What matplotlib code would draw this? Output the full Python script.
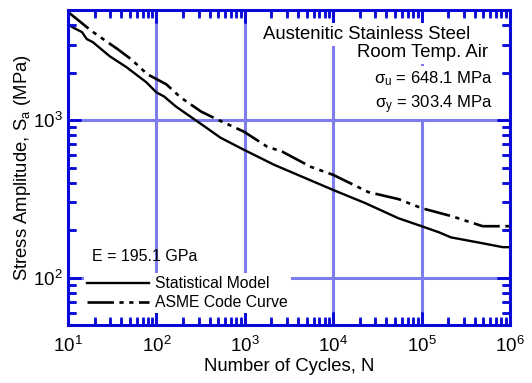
import matplotlib.pyplot as plt
from matplotlib.ticker import FixedLocator, NullFormatter

plt.rcParams['font.family'] = ['Liberation Sans', 'DejaVu Sans']
plt.rcParams['mathtext.fontset'] = 'custom'
plt.rcParams['mathtext.rm'] = 'Liberation Sans'
plt.rcParams['mathtext.it'] = 'Liberation Sans:italic'
plt.rcParams['mathtext.default'] = 'regular'

# values
stat_n = [11.1, 14.4, 16.3, 19.1, 29.6, 46, 77, 100, 122, 166, 354, 531, 977,
          2150, 10000, 23100, 54800, 100000, 157000, 215000, 417000, 832000, 1000000]
stat_s = [3900, 3620, 3270, 3125, 2545, 2165, 1738, 1500, 1413, 1220, 908, 773, 648,
          520, 360, 297, 238, 212, 194, 180, 168, 156, 156]

asme_n = [10, 18.6, 28, 36.5, 52, 79, 129, 188, 320, 492, 975, 1790, 2660, 5580,
          10000, 25000, 54800, 100000, 221000, 490000, 950000, 1000000]
asme_s = [4860, 3670, 3125, 2820, 2430, 1955, 1690, 1393, 1133, 1007, 845, 678, 630, 505,
          449, 349, 315, 276, 245, 212, 212, 212]

x_decades = [10, 100, 1000, 10000, 100000, 1000000]
y_decades = [10, 100, 1000]

blue = '#0a0ad8'
gridc = '#7d7dee'

fig = plt.figure(figsize=(5.32, 3.83), dpi=100)
ax = fig.add_axes([0.1278, 0.1514, 0.8308, 0.8225])

ax.loglog(stat_n, stat_s, color='black', lw=1.7, label='Statistical Model')
ax.loglog(asme_n, asme_s, color='black', lw=1.9,
          linestyle=(0, (10, 2.1, 1.6, 2.1, 1.6, 2.1)), label='ASME Code Curve')

ax.set_xlim(10, 1e6)
ax.set_ylim(50, 5000)

x_minor = [d * k for d in x_decades[:-1] for k in range(2, 10)]
y_minor = [d * k for d in y_decades for k in range(2, 10)]
ax.xaxis.set_major_locator(FixedLocator(x_decades))
ax.yaxis.set_major_locator(FixedLocator([100, 1000]))
ax.xaxis.set_minor_locator(FixedLocator(x_minor))
ax.yaxis.set_minor_locator(FixedLocator(y_minor))
ax.xaxis.set_minor_formatter(NullFormatter())
ax.yaxis.set_minor_formatter(NullFormatter())

ax.grid(True, which='major', color=gridc, lw=2.2)
ax.set_axisbelow('line')

for sp in ax.spines.values():
    sp.set_color(blue)
    sp.set_linewidth(2.2)
ax.tick_params(which='both', direction='in', color=blue, top=True, right=True,
               labelsize=13.5, width=1.8)
ax.tick_params(which='major', length=9.5)
ax.tick_params(which='minor', length=5.5)
ax.tick_params(axis='x', which='major', pad=8)
ax.tick_params(axis='y', which='major', pad=4)

# inward tick marks drawn as line collections on all four sides
xt = ax.get_xaxis_transform()
yt = ax.get_yaxis_transform()
tk = dict(color=blue, lw=1.8, zorder=2.6)
ax.vlines(x_minor, 0, 0.022, transform=xt, **tk)
ax.vlines(x_minor, 1 - 0.022, 1, transform=xt, **tk)
ax.vlines(x_decades, 0, 0.042, transform=xt, **tk)
ax.vlines(x_decades, 1 - 0.042, 1, transform=xt, **tk)
ax.hlines(y_minor, 0, 0.017, transform=yt, **tk)
ax.hlines(y_minor, 1 - 0.017, 1, transform=yt, **tk)
ax.hlines(y_decades, 0, 0.03, transform=yt, **tk)
ax.hlines(y_decades, 1 - 0.03, 1, transform=yt, **tk)

ax.set_xlabel('Number of Cycles, N', fontsize=13.3, labelpad=1)
ax.set_ylabel('Stress Amplitude, S$_a$ (MPa)', fontsize=13.3, labelpad=0)

wbox = dict(facecolor='white', edgecolor='none', pad=2)
ax.text(0.441, 0.908, 'Austenitic Stainless Steel', transform=ax.transAxes,
        fontsize=13.3, va='baseline', ha='left', bbox=wbox)
ax.text(0.950, 0.851, 'Room Temp. Air', transform=ax.transAxes,
        fontsize=13.3, va='baseline', ha='right', bbox=wbox)
ax.text(0.962, 0.768, r'$\sigma_u$ = 648.1 MPa', transform=ax.transAxes,
        fontsize=12, va='baseline', ha='right', bbox=wbox)
ax.text(0.962, 0.689, r'$\sigma_y$ = 303.4 MPa', transform=ax.transAxes,
        fontsize=12, va='baseline', ha='right', bbox=wbox)
ax.text(0.054, 0.203, 'E = 195.1 GPa', transform=ax.transAxes,
        fontsize=11.5, va='baseline', ha='left')

leg = ax.legend(loc='upper left', bbox_to_anchor=(0.036, 0.165), fontsize=11.3,
                handlelength=3.95, handletextpad=0.4, labelspacing=0.25,
                borderpad=0.2, borderaxespad=0, frameon=True, fancybox=False)
leg.get_frame().set_facecolor('white')
leg.get_frame().set_edgecolor('none')
leg.get_frame().set_alpha(1)

fig.savefig('out.png', dpi=100)
